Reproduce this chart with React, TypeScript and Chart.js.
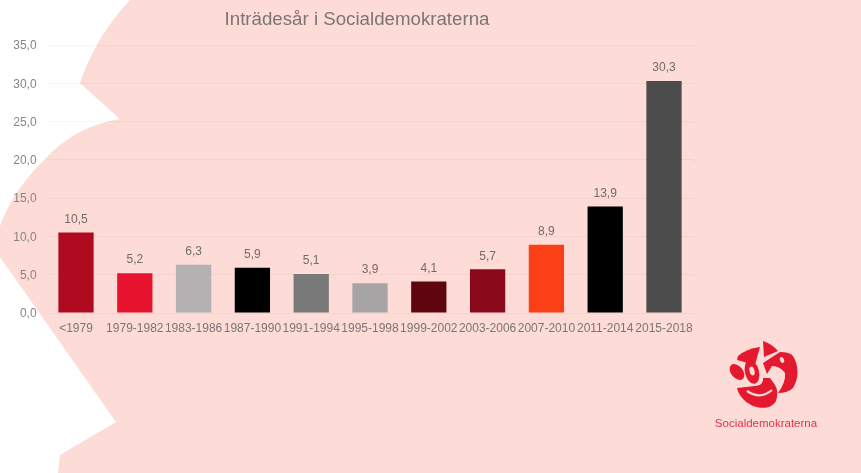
import React, { useEffect, useRef } from "react";
import { Chart, registerables } from "chart.js";

Chart.register(...registerables);

const categories = ["<1979", "1979-1982", "1983-1986", "1987-1990", "1991-1994", "1995-1998", "1999-2002", "2003-2006", "2007-2010", "2011-2014", "2015-2018"];
const shares = [10.5, 5.2, 6.3, 5.9, 5.1, 3.9, 4.1, 5.7, 8.9, 13.9, 30.3];
const barColors = ["#b00a20", "#e8142f", "#b3b1b1", "#000000", "#797979", "#a6a4a4", "#5e0510", "#8a0a1c", "#fb3f17", "#000000", "#4c4c4c"];
const titleText = "Inträdesår i Socialdemokraterna";
const logoText = "Socialdemokraterna";

const FONT = "'Liberation Sans', Arial, sans-serif";
const PINK = "#fddbd6";
const GRID = "rgba(90,60,60,0.05)";
const RED = "#e4192f";
const comma = (v: number) => v.toFixed(1).replace(".", ",");

const backdrop = {
  id: "backdrop",
  beforeDraw(chart: any) {
    const c = chart.ctx;
    c.save();
    c.fillStyle = "#ffffff";
    c.fillRect(0, 0, chart.width, chart.height);
    c.fillStyle = PINK;
    c.beginPath();
    c.moveTo(130, 0);
    c.quadraticCurveTo(96, 36, 80, 83);
    c.lineTo(120, 119);
    c.quadraticCurveTo(75, 126, 44, 160);
    c.quadraticCurveTo(12, 192, 0, 226);
    c.lineTo(0, 257);
    c.lineTo(116, 422);
    c.lineTo(60, 455);
    c.lineTo(58, 473);
    c.lineTo(861, 473);
    c.lineTo(861, 0);
    c.closePath();
    c.fill();
    c.restore();
  },
  beforeDatasetsDraw(chart: any) {
    const c = chart.ctx;
    const y = chart.scales.y;
    c.save();
    c.strokeStyle = GRID;
    c.lineWidth = 1;
    y.ticks.forEach((t: any) => {
      const py = Math.round(y.getPixelForValue(t.value)) + 0.5;
      c.beginPath();
      c.moveTo(chart.chartArea.right, py);
      c.lineTo(697, py);
      c.stroke();
    });
    c.restore();
  },
};

function drawLogo(c: CanvasRenderingContext2D) {
  c.fillStyle = RED;
  // top wedge
  c.beginPath();
  c.moveTo(763, 341);
  c.quadraticCurveTo(772, 344, 778, 351);
  c.lineTo(764, 357);
  c.closePath();
  c.fill();
  // upper-left petal
  c.beginPath();
  c.moveTo(760, 347);
  c.quadraticCurveTo(746, 349, 738, 356);
  c.lineTo(737, 360);
  c.lineTo(755, 365);
  c.closePath();
  c.fill();
  // right petal
  c.beginPath();
  c.moveTo(763, 363);
  c.lineTo(780, 352);
  c.quadraticCurveTo(790, 352, 793, 356);
  c.bezierCurveTo(799, 366, 799, 378, 793, 388);
  c.quadraticCurveTo(788, 393, 778, 393);
  c.quadraticCurveTo(786, 382, 785, 373);
  c.quadraticCurveTo(780, 366, 772, 366);
  c.lineTo(767, 374);
  c.closePath();
  c.fill();
  // left ellipse
  c.beginPath();
  c.ellipse(737, 372, 6, 9, -0.7, 0, Math.PI * 2);
  c.fill();
  // centre ellipse
  c.beginPath();
  c.ellipse(752, 372, 7, 12, -0.25, 0, Math.PI * 2);
  c.fill();
  // bowl
  c.beginPath();
  c.moveTo(737, 388);
  c.bezierCurveTo(741, 406, 768, 415, 776, 401);
  c.quadraticCurveTo(779, 392, 775, 385);
  c.lineTo(770, 378);
  c.lineTo(763, 378);
  c.quadraticCurveTo(764, 385, 755, 386);
  c.closePath();
  c.fill();
  // highlights
  c.fillStyle = PINK;
  c.beginPath();
  c.ellipse(752, 371, 2.5, 4.5, -0.25, 0, Math.PI * 2);
  c.fill();
  c.beginPath();
  c.ellipse(782, 360, 2, 3, -0.4, 0, Math.PI * 2);
  c.fill();
  c.strokeStyle = PINK;
  c.lineWidth = 2.2;
  c.beginPath();
  c.moveTo(747, 391);
  c.quadraticCurveTo(760, 400, 772, 390);
  c.stroke();
  c.fillStyle = "#e2334c";
  c.font = `11.5px ${FONT}`;
  c.textAlign = "center";
  c.textBaseline = "middle";
  c.fillText(logoText, 766, 424);
}

const overlay = {
  id: "overlay",
  afterDatasetsDraw(chart: any) {
    const c = chart.ctx;
    const meta = chart.getDatasetMeta(0);
    c.save();
    c.font = `12px ${FONT}`;
    c.fillStyle = "#736b69";
    c.textAlign = "center";
    c.textBaseline = "bottom";
    meta.data.forEach((bar: any, i: number) => {
      c.fillText(comma(shares[i]), bar.x, bar.y - 7);
    });
    c.font = `18.7px ${FONT}`;
    c.fillStyle = "#7b7574";
    c.textBaseline = "middle";
    c.fillText(titleText, 357, 20);
    drawLogo(c);
    c.restore();
  },
};

export default function App() {
  const ref = useRef<HTMLCanvasElement>(null);
  useEffect(() => {
    const chart = new Chart(ref.current!, {
      type: "bar",
      data: {
        labels: categories,
        datasets: [{ data: shares, backgroundColor: barColors, barPercentage: 0.6, categoryPercentage: 1 }],
      },
      options: {
        animation: false,
        responsive: false,
        layout: { padding: { left: 0, right: 167.6, top: 45, bottom: 0 } },
        plugins: { legend: { display: false }, title: { display: false }, tooltip: { enabled: false } },
        scales: {
          x: {
            border: { display: false },
            grid: { display: false },
            ticks: { autoSkip: false, maxRotation: 0, minRotation: 0, font: { family: FONT, size: 12 }, color: "#7d7573", padding: 0 },
            afterFit: (s: any) => { s.height = 160; },
          },
          y: {
            min: 0,
            max: 35,
            border: { display: false },
            grid: { color: GRID, drawTicks: false },
            ticks: { stepSize: 5, labelOffset: 1, callback: (v: any) => comma(Number(v)), font: { family: FONT, size: 12 }, color: "#8a8381", padding: 10 },
            afterFit: (s: any) => { s.width = 46.6; },
          },
        },
      },
      plugins: [backdrop, overlay],
    });
    return () => chart.destroy();
  }, []);
  return (
    <div style={{ position: "fixed", left: 0, top: 0, width: 861, height: 473, overflow: "hidden" }}>
      <canvas ref={ref} width={861} height={473} style={{ display: "block", width: 861, height: 473, filter: "blur(0.45px)" }} />
    </div>
  );
}
